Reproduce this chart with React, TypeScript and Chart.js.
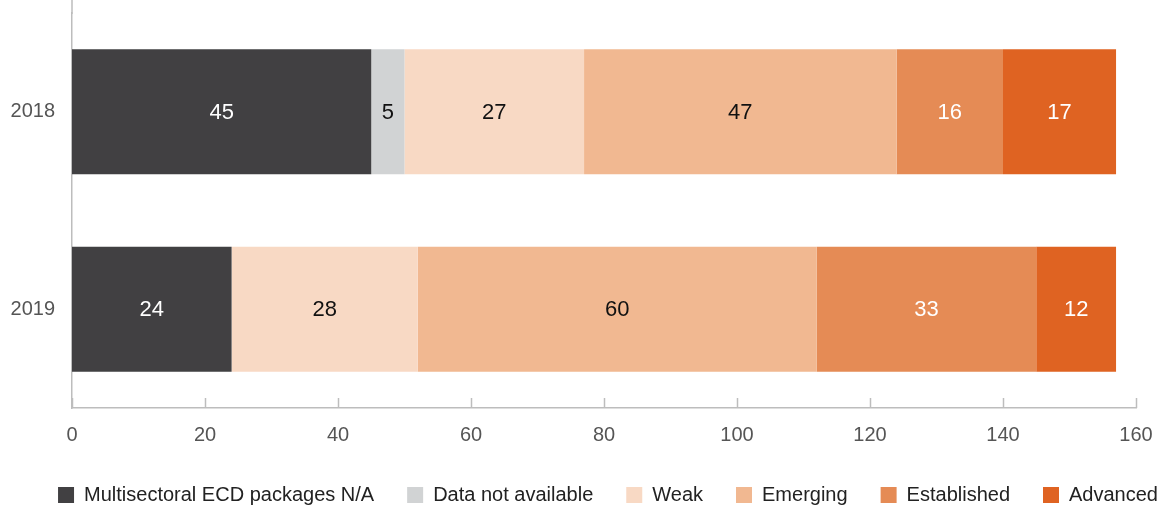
import React, { useEffect, useRef } from "react";
import { Chart, registerables } from "chart.js";

Chart.register(...registerables);

const years = ["2018", "2019"];
const seriesNames = [
  "Multisectoral ECD packages N/A",
  "Data not available",
  "Weak",
  "Emerging",
  "Established",
  "Advanced",
];
const naValues = [45, 24];
const dataNAValues = [5, 0];
const weakValues = [27, 28];
const emergingValues = [47, 60];
const establishedValues = [16, 33];
const advancedValues = [17, 12];
const xTicks = [0, 20, 40, 60, 80, 100, 120, 140, 160];

const colors = ["#414042", "#d1d3d4", "#f8d9c4", "#f1b891", "#e58b55", "#df6322"];
const labelColors = ["#ffffff", "#111111", "#111111", "#111111", "#ffffff", "#ffffff"];

const FONT = "'Liberation Sans', Arial, sans-serif";
const AXIS_COLOR = "#bdbdbd";

const valueLabels = {
  id: "valueLabels",
  afterDatasetsDraw(chart: any) {
    const ctx = chart.ctx;
    ctx.save();
    ctx.font = `22px ${FONT}`;
    ctx.textAlign = "center";
    ctx.textBaseline = "middle";
    chart.data.datasets.forEach((ds: any, i: number) => {
      const meta = chart.getDatasetMeta(i);
      meta.data.forEach((bar: any, j: number) => {
        const v = ds.data[j];
        if (!v) return;
        const p = bar.getProps(["x", "y", "base"], true);
        ctx.fillStyle = labelColors[i];
        ctx.fillText(String(v), (p.x + p.base) / 2, p.y + 1);
      });
    });
    ctx.restore();
  },
};

const axisExtras = {
  id: "axisExtras",
  afterLayout(chart: any) {
    const lg = chart.legend;
    if (lg) {
      lg.left += 24;
      lg.right += 24;
    }
  },
  afterDraw(chart: any) {
    const ctx = chart.ctx;
    const xs = chart.scales.x;
    const ca = chart.chartArea;
    ctx.save();
    ctx.strokeStyle = AXIS_COLOR;
    ctx.lineWidth = 1.5;
    xTicks.forEach((t) => {
      const x = Math.round(xs.getPixelForValue(t)) + 0.5;
      ctx.beginPath();
      ctx.moveTo(x, xs.top);
      ctx.lineTo(x, xs.top - 10);
      ctx.stroke();
    });
    ctx.beginPath();
    ctx.moveTo(ca.left, 0);
    ctx.lineTo(ca.left, ca.top + 1);
    ctx.stroke();
    ctx.restore();
  },
};

export default function App() {
  const ref = useRef<HTMLCanvasElement>(null);
  useEffect(() => {
    document.body.style.margin = "0";
    const series = [naValues, dataNAValues, weakValues, emergingValues, establishedValues, advancedValues];
    const chart = new Chart(ref.current!, {
      type: "bar",
      data: {
        labels: years,
        datasets: series.map((d, i) => ({
          label: seriesNames[i],
          data: d,
          backgroundColor: colors[i],
          borderWidth: 0,
          categoryPercentage: 1,
          barPercentage: 0.633,
        })),
      },
      plugins: [valueLabels, axisExtras],
      options: {
        indexAxis: "y",
        animation: false,
        responsive: false,
        maintainAspectRatio: false,
        layout: { padding: { top: 13, right: 0, left: 0, bottom: -9 } },
        scales: {
          x: {
            stacked: true,
            min: 0,
            max: 160,
            afterBuildTicks: (s: any) => {
              s.ticks = xTicks.map((v) => ({ value: v }));
            },
            afterFit: (s: any) => {
              s.height = 44;
              s.paddingRight = 32;
            },
            grid: { display: false, drawTicks: false },
            border: { display: true, color: AXIS_COLOR, width: 1.5 },
            ticks: {
              padding: 15,
              color: "#555555",
              font: { family: FONT, size: 20 },
            },
          },
          y: {
            stacked: true,
            grid: { display: false, drawTicks: false },
            border: { display: true, color: AXIS_COLOR, width: 1.5 },
            afterFit: (s: any) => {
              s.width = 72;
              s.paddingTop = 0;
              s.paddingBottom = 0;
            },
            ticks: {
              padding: 17,
              color: "#555555",
              font: { family: FONT, size: 20 },
            },
          },
        },
        plugins: {
          tooltip: { enabled: false },
          legend: {
            position: "bottom",
            labels: {
              boxWidth: 16,
              boxHeight: 16,
              padding: 33,
              color: "#222222",
              font: { family: FONT, size: 20 },
            },
          },
        },
      },
    } as any);
    return () => chart.destroy();
  }, []);
  return (
    <div style={{ width: 1168, height: 506 }}>
      <canvas ref={ref} width={1168} height={506} style={{ display: "block" }} />
    </div>
  );
}
